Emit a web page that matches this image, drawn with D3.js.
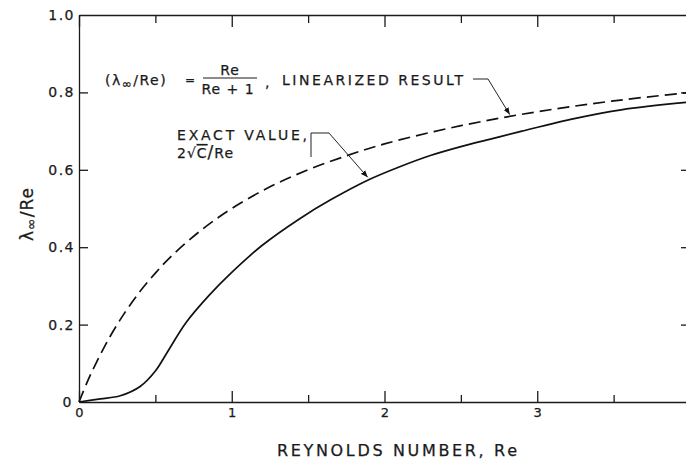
<!DOCTYPE html>
<html lang="en">
<head>
<meta charset="utf-8">
<script src="https://d3js.org/d3.v7.min.js"></script>
<title>lambda / Re vs Reynolds number</title>
<style>
  body { margin: 0; background: #fff; }
  svg { display: block; }
  .axis path { stroke: #1a1a1a; stroke-width: 1.3px; fill: none; }
  .axis text { font-family: "DejaVu Sans", sans-serif; font-size: 13px; fill: #1a1a1a; stroke: #1a1a1a; stroke-width: 0.25px; }
  .lbl { font-family: "DejaVu Sans", sans-serif; fill: #1a1a1a; stroke: #1a1a1a; stroke-width: 0.25px; }
  .curve { fill: none; stroke: #111; stroke-width: 1.7px; }
  .lead { fill: none; stroke: #222; stroke-width: 1px; }
</style>
</head>
<body>
<svg id="chart" width="686" height="462"></svg>
<script>
// values
var reExact  = [0, 0.14, 0.27, 0.40, 0.50, 0.58, 0.70, 0.85, 1.00, 1.20, 1.45, 1.65, 1.90, 2.10, 2.30, 2.50, 2.70, 2.90, 3.25, 3.55, 4.00];
var lamExact = [0, 0.008, 0.016, 0.04, 0.08, 0.13, 0.205, 0.275, 0.335, 0.405, 0.475, 0.523, 0.575, 0.608, 0.637, 0.66, 0.68, 0.70, 0.733, 0.755, 0.775];

var reLinear  = [0, 0.05, 0.10, 0.20, 0.30, 0.40, 0.50, 0.60, 0.80, 1.00, 1.25, 1.50, 1.75, 2.00, 2.50, 3.00, 3.50, 4.00];
var lamLinear = [0, 0.048, 0.091, 0.167, 0.231, 0.286, 0.333, 0.375, 0.444, 0.50, 0.556, 0.60, 0.636, 0.667, 0.714, 0.75, 0.778, 0.80];

var xTicks = [0, 0.5, 1, 1.5, 2, 2.5, 3, 3.5, 4];
var yTicks = [0, 0.2, 0.4, 0.6, 0.8, 1.0];

var svg = d3.select("#chart");

var x = d3.scaleLinear().domain([0, 4]).range([79, 690]);
var y = d3.scaleLinear().domain([0, 1]).range([402, 15]);

// arrow marker
svg.append("defs").append("marker")
    .attr("id", "arr")
    .attr("viewBox", "0 0 10 10")
    .attr("refX", 10).attr("refY", 5)
    .attr("markerWidth", 7).attr("markerHeight", 7)
    .attr("markerUnits", "userSpaceOnUse")
    .attr("orient", "auto")
  .append("path")
    .attr("d", "M0,1 L10,5 L0,9 Z")
    .attr("fill", "#111");

// frame: the axes draw the border, labels and inward ticks
var xFmt = function(d) { return d % 1 === 0 && d < 4 ? String(d) : ""; };
var tickLen = function(d) { return d % 1 === 0 ? 11 : 7; };

var gB = svg.append("g").attr("class", "axis")
    .attr("transform", "translate(0," + y(0) + ")")
    .call(d3.axisBottom(x).tickValues(xTicks).tickSize(0).tickPadding(6).tickFormat(xFmt));
gB.selectAll(".tick text").attr("y", 6);
gB.selectAll(".tick").append("path")
    .attr("d", function(d) { return "M0,0V" + (-tickLen(d)); })
    .attr("stroke", "#1a1a1a").attr("stroke-width", 1.8);

var gT = svg.append("g").attr("class", "axis")
    .attr("transform", "translate(0," + y(1) + ")")
    .call(d3.axisTop(x).tickValues(xTicks).tickSize(0).tickFormat(""));
gT.selectAll(".tick").append("path")
    .attr("d", function(d) { return "M0,0V" + (tickLen(d) + 1); })
    .attr("stroke", "#1a1a1a").attr("stroke-width", 1.8);

var gL = svg.append("g").attr("class", "axis")
    .attr("transform", "translate(" + x(0) + ",0)")
    .call(d3.axisLeft(y).tickValues(yTicks).tickSize(0)
      .tickFormat(function(d) { return d === 0 ? "0" : d3.format(".1f")(d); }));
gL.selectAll(".tick text")
    .attr("x", function(d) { return d === 0 ? -6 : -4; })
    .style("font-size", "14px").style("letter-spacing", "1.5px");
gL.selectAll(".tick").filter(function(d) { return d > 0 && d < 1; }).append("path")
    .attr("d", "M0,0H9")
    .attr("stroke", "#1a1a1a").attr("stroke-width", 1.8);

var gR = svg.append("g").attr("class", "axis")
    .attr("transform", "translate(" + x(4) + ",0)")
    .call(d3.axisRight(y).tickValues(yTicks).tickSize(0).tickFormat(""));
gR.selectAll(".tick").filter(function(d) { return d > 0 && d < 1; }).append("path")
    .attr("d", "M0,0H-9")
    .attr("stroke", "#1a1a1a").attr("stroke-width", 1.8);

// curves
var lineGen = d3.line().curve(d3.curveCatmullRom.alpha(0.5))
    .x(function(d) { return x(d[0]); })
    .y(function(d) { return y(d[1]); });

svg.append("path").attr("class", "curve")
    .attr("d", lineGen(d3.zip(reLinear, lamLinear)))
    .attr("stroke-dasharray", "12,6");

svg.append("path").attr("class", "curve")
    .attr("d", lineGen(d3.zip(reExact, lamExact)));

// axis titles
svg.append("text").attr("class", "lbl")
    .attr("x", 277).attr("y", 456)
    .attr("textLength", 240).attr("lengthAdjust", "spacing")
    .style("font-size", "16px")
    .text("REYNOLDS NUMBER, Re");

var yt = svg.append("text").attr("class", "lbl")
    .attr("transform", "translate(33,214) rotate(-90)")
    .attr("text-anchor", "middle")
    .style("font-size", "17px").style("letter-spacing", "1px");
yt.append("tspan").text("λ");
yt.append("tspan").attr("dy", 3).style("font-size", "14px").text("∞");
yt.append("tspan").attr("dy", -3).text("/Re");

// linearized annotation
var f1 = svg.append("text").attr("class", "lbl")
    .attr("x", 105).attr("y", 85).style("font-size", "14px").style("letter-spacing", "1.5px");
f1.append("tspan").text("(λ");
f1.append("tspan").attr("dy", 3).style("font-size", "12px").text("∞");
f1.append("tspan").attr("dy", -3).text("/Re)");

svg.append("text").attr("class", "lbl").attr("x", 185).attr("y", 84)
    .style("font-size", "12px").text("=");
svg.append("text").attr("class", "lbl").attr("x", 230).attr("y", 75)
    .attr("text-anchor", "middle").style("font-size", "14px").style("letter-spacing", "1px").text("Re");
svg.append("line").attr("x1", 203).attr("x2", 257).attr("y1", 78).attr("y2", 78)
    .attr("stroke", "#1a1a1a").attr("stroke-width", 1.2);
svg.append("text").attr("class", "lbl").attr("x", 228).attr("y", 94)
    .attr("text-anchor", "middle").style("font-size", "14px").style("letter-spacing", "1px").text("Re + 1");
svg.append("text").attr("class", "lbl").attr("x", 265).attr("y", 87)
    .style("font-size", "14px").text(",");
svg.append("text").attr("class", "lbl").attr("x", 282).attr("y", 85)
    .attr("textLength", 181).attr("lengthAdjust", "spacing")
    .style("font-size", "14px").text("LINEARIZED RESULT");

svg.append("path").attr("class", "lead")
    .attr("d", "M473,79L488,79L" + x(2.82) + "," + (y(0.74) - 1))
    .attr("marker-end", "url(#arr)");

// exact annotation
svg.append("text").attr("class", "lbl")
    .attr("x", 177).attr("y", 140)
    .attr("textLength", 130).attr("lengthAdjust", "spacing")
    .style("font-size", "14px").text("EXACT VALUE,");

var f2 = svg.append("text").attr("class", "lbl")
    .attr("x", 177).attr("y", 158).style("font-size", "14px").style("letter-spacing", "1px");
f2.append("tspan").text("2√");
f2.append("tspan").style("text-decoration", "overline").text("C");
f2.append("tspan").style("font-size", "17px").text("/");
f2.append("tspan").text("Re");

svg.append("path").attr("class", "lead")
    .attr("d", "M311,157L311,133L329,133L" + x(1.89) + "," + (y(0.578) - 1))
    .attr("marker-end", "url(#arr)");
</script>
</body>
</html>
